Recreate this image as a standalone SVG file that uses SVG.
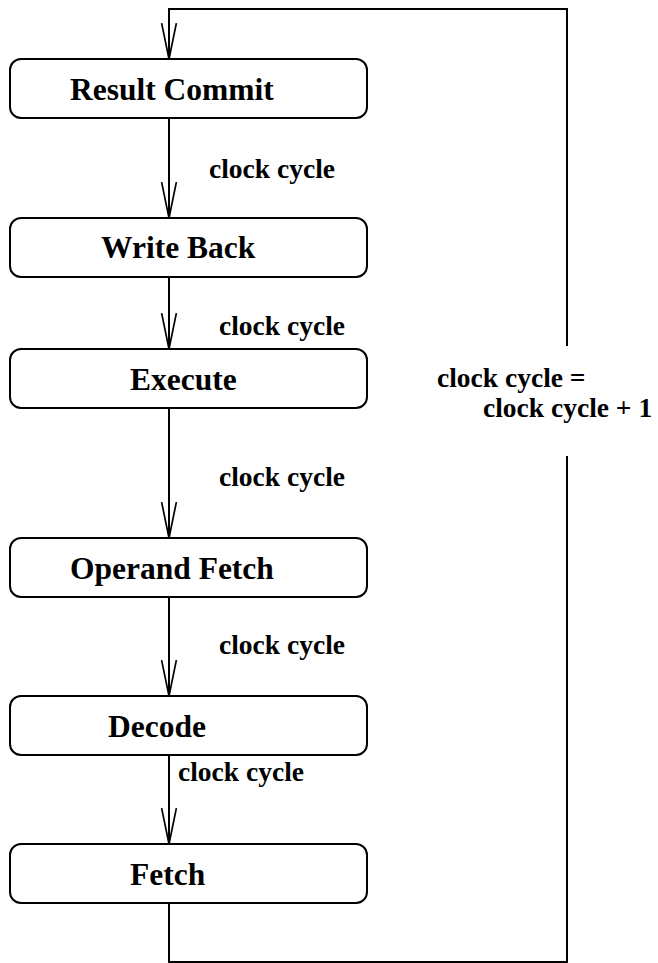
<svg xmlns="http://www.w3.org/2000/svg" width="658" height="963" viewBox="0 0 658 963">
<style>
.box{fill:#fff;stroke:#000;stroke-width:2}
.t{font-family:"Liberation Serif","Times New Roman",serif;font-weight:bold;fill:#000}
.n{font-size:31.5px}
.l{font-size:27.5px}
.c{fill:none;stroke:#000;stroke-width:2}
</style>
<defs>
<marker id="v" markerUnits="userSpaceOnUse" markerWidth="38" markerHeight="18" refX="35" refY="8" orient="auto" viewBox="0 0 36 16">
<polyline points="1,1 35,8 1,15" fill="none" stroke="#000" stroke-width="1.6"/>
</marker>
</defs>
<g id="connectors">
<polyline class="c" points="567,346 567,9 169,9 169,59" marker-end="url(#v)"/>
<polyline class="c" points="169,903 169,962 567,962 567,456"/>
<line class="c" x1="169" y1="118" x2="169" y2="218" marker-end="url(#v)"/>
<line class="c" x1="169" y1="277" x2="169" y2="349" marker-end="url(#v)"/>
<line class="c" x1="169" y1="408" x2="169" y2="538" marker-end="url(#v)"/>
<line class="c" x1="169" y1="597" x2="169" y2="696" marker-end="url(#v)"/>
<line class="c" x1="169" y1="755" x2="169" y2="844" marker-end="url(#v)"/>
<text class="t l" x="209" y="178">clock cycle</text>
<text class="t l" x="219" y="335">clock cycle</text>
<text class="t l" x="219" y="486">clock cycle</text>
<text class="t l" x="219" y="654">clock cycle</text>
<text class="t l" x="178" y="781">clock cycle</text>
<text class="t l" x="437" y="387">clock cycle =</text>
<text class="t l" x="483" y="417">clock cycle + 1</text>
</g>
<g id="result-commit"><rect class="box" x="10" y="59" width="357" height="59" rx="11"/><text class="t n" x="70" y="100">Result Commit</text></g>
<g id="write-back"><rect class="box" x="10" y="218" width="357" height="59" rx="11"/><text class="t n" x="101" y="258">Write Back</text></g>
<g id="execute"><rect class="box" x="10" y="349" width="357" height="59" rx="11"/><text class="t n" x="130" y="390">Execute</text></g>
<g id="operand-fetch"><rect class="box" x="10" y="538" width="357" height="59" rx="11"/><text class="t n" x="70" y="579">Operand Fetch</text></g>
<g id="decode"><rect class="box" x="10" y="696" width="357" height="59" rx="11"/><text class="t n" x="108" y="737">Decode</text></g>
<g id="fetch"><rect class="box" x="10" y="844" width="357" height="59" rx="11"/><text class="t n" x="130" y="885">Fetch</text></g>
</svg>
